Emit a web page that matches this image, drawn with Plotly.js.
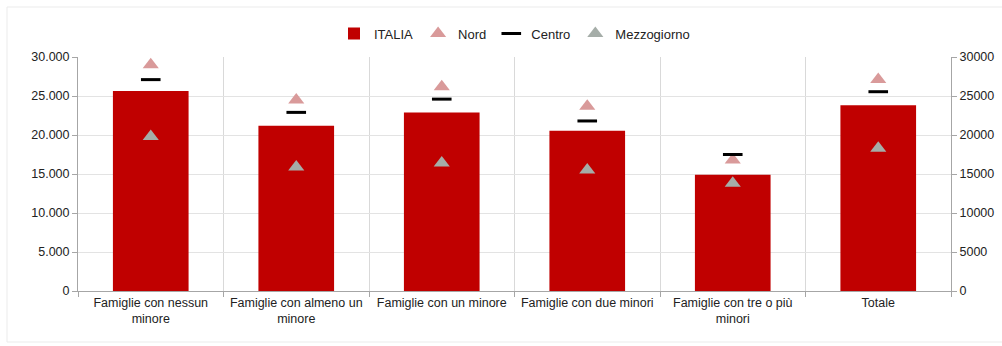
<!DOCTYPE html>
<html>
<head>
<meta charset="utf-8">
<script src="https://cdn.plot.ly/plotly-3.0.1.min.js"></script>
<style>html,body{margin:0;padding:0;background:#fff;}#chart{width:1002px;height:346px;}</style>
</head>
<body>
<div id="chart"></div>
<script>
const categories = [
  "Famiglie con nessun<br>minore",
  "Famiglie con almeno un<br>minore",
  "Famiglie con un minore",
  "Famiglie con due minori",
  "Famiglie con tre o più<br>minori",
  "Totale"
];
const italia = [25650, 21200, 22900, 20550, 14900, 23800];
const nord = [29000, 24500, 26200, 23700, 16800, 27100];
const centro = [27100, 22900, 24600, 21800, 17500, 25550];
const mezzogiorno = [19800, 15900, 16400, 15500, 13800, 18300];
const leftTicks = [0, 5000, 10000, 15000, 20000, 25000, 30000];

const fam = "Liberation Sans, Arial, sans-serif";
const font = {family: fam, size: 12, color: "#222"};

const data = [
  {type: "bar", name: "ITALIA", x: categories, y: italia, marker: {color: "#C00000"}, width: 0.52},
  {type: "scatter", mode: "markers", name: "Nord", x: categories, y: nord,
   marker: {symbol: "triangle-up", size: 14, color: "#D99A9A"}},
  {type: "scatter", mode: "markers", name: "Centro", x: categories, y: centro,
   marker: {symbol: "line-ew", size: 14, line: {width: 3, color: "#000"}}},
  {type: "scatter", mode: "markers", name: "Mezzogiorno", x: categories, y: mezzogiorno,
   marker: {symbol: "triangle-up", size: 14, color: "#A5ADA8"}},
  {type: "scatter", mode: "markers", x: categories, y: italia, yaxis: "y2",
   showlegend: false, hoverinfo: "skip", marker: {opacity: 0}}
];

const layout = {
  width: 1002, height: 346,
  margin: {l: 78, r: 51, t: 57, b: 55},
  paper_bgcolor: "#fff", plot_bgcolor: "#fff",
  font: font,
  separators: ",.",
  showlegend: true,
  legend: {orientation: "h", x: 0.5, xanchor: "center", y: 1.1, yanchor: "middle",
           font: {family: fam, size: 13, color: "#222"}, itemwidth: 30, tracegroupgap: 0},
  bargap: 0.48,
  xaxis: {
    type: "category", tickson: "boundaries", showgrid: true, gridcolor: "#d9d9d9",
    showline: true, linecolor: "#a6a6a6", linewidth: 1,
    ticks: "outside", ticklen: 5, tickcolor: "#a6a6a6", tickangle: 0,
    tickfont: {family: fam, size: 12.5, color: "#222"}, fixedrange: true
  },
  yaxis: {
    range: [0, 30000], tickvals: leftTicks, tickformat: ",d",
    showgrid: true, gridcolor: "#e3e3e3", zeroline: false,
    showline: true, linecolor: "#a6a6a6", ticks: "outside", ticklen: 5, tickcolor: "#a6a6a6",
    tickfont: {family: fam, size: 12.5, color: "#222"}
  },
  yaxis2: {
    overlaying: "y", side: "right", range: [0, 30000], tickvals: leftTicks, tickformat: "d",
    showgrid: false, zeroline: false,
    showline: true, linecolor: "#a6a6a6", ticks: "outside", ticklen: 5, tickcolor: "#a6a6a6",
    tickfont: {family: fam, size: 12.5, color: "#222"}
  },
  shapes: [
    {type: "rect", xref: "paper", yref: "paper", x0: -0.0813, x1: 1.07, y0: -0.218, y1: 1.2137,
     line: {color: "#ebebeb", width: 1}, fillcolor: "rgba(0,0,0,0)", layer: "below"}
  ]
};

Plotly.newPlot("chart", data, layout, {displayModeBar: false, staticPlot: true});
</script>
</body>
</html>
